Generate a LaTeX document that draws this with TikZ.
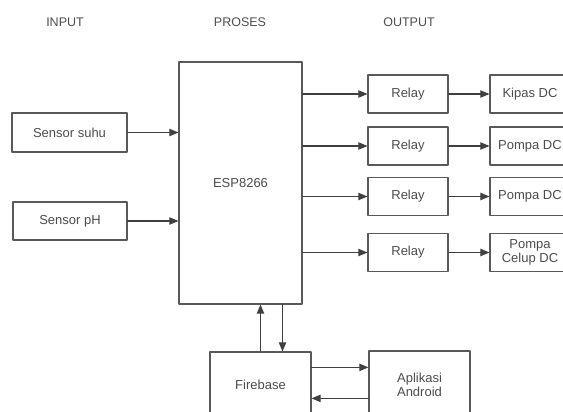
\documentclass[tikz,border=0pt]{standalone}
\usepackage{fontspec}
\setmainfont{Liberation Sans}
\usetikzlibrary{arrows}

\begin{document}
\begin{tikzpicture}[line cap=round,line join=round,>=triangle 45,x=1pt,y=-1pt,
	blok/.style={draw=black!65,line width=1.2pt,fill=white,text=black!70,font=\fontsize{13}{14}\selectfont,align=center,inner sep=0pt},
	judul/.style={text=black!70,font=\fontsize{12.5}{13}\selectfont},
	panah/.style={->,draw=black!75,line width=1.1pt}]
			\useasboundingbox (0,0) rectangle (563,412);
			\clip (0,0) rectangle (563,412);
			\node[judul] (hin) at (65,22) {INPUT};
			\node[judul] (hpr) at (240,22) {PROSES};
			\node[judul] (hout) at (409,22) {OUTPUT};
			\node[blok,minimum width=115,minimum height=39] (suhu) at (69.5,132.5) {Sensor suhu};
			\node[blok,minimum width=114,minimum height=38] (ph) at (70,221) {Sensor pH};
			\node[blok,minimum width=123,minimum height=242] (esp) at (240.5,183) {ESP8266};
			\node[blok,minimum width=80,minimum height=38] (r1) at (408,94) {Relay};
			\node[blok,minimum width=80,minimum height=38] (r2) at (408,146) {Relay};
			\node[blok,minimum width=80,minimum height=38] (r3) at (408,196.5) {Relay};
			\node[blok,minimum width=80,minimum height=38] (r4) at (408,252.5) {Relay};
			\node[blok,minimum width=80,minimum height=38] (kipas) at (530,94) {Kipas DC};
			\node[blok,minimum width=80,minimum height=38] (pompa1) at (530,146) {Pompa DC};
			\node[blok,minimum width=80,minimum height=38] (pompa2) at (530,196.5) {Pompa DC};
			\node[blok,minimum width=80,minimum height=38] (celup) at (530,252.5) {Pompa\\Celup DC};
			\node[blok,minimum width=101,minimum height=66] (fb) at (260.5,385) {Firebase};
			\node[blok,minimum width=101,minimum height=68] (app) at (419.5,385) {Aplikasi\\Android};
			\draw[panah] (suhu) -- (suhu -| esp.west);
			\draw[panah] (ph) -- (ph -| esp.west);
			\draw[panah] (r1 -| esp.east) -- (r1);
			\draw[panah] (r2 -| esp.east) -- (r2);
			\draw[panah] (r3 -| esp.east) -- (r3);
			\draw[panah] (r4 -| esp.east) -- (r4);
			\draw[panah] (r1) -- (kipas);
			\draw[panah] (r2) -- (pompa1);
			\draw[panah] (r3) -- (pompa2);
			\draw[panah] (r4) -- (celup);
			\draw[panah] (fb.north) -- (fb.north |- esp.south);
			\draw[panah] ([xshift=22pt]fb.north |- esp.south) -- ([xshift=22pt]fb.north);
			\draw[panah] ([yshift=-16pt]fb.north east) -- ([yshift=-16pt]fb.north east -| app.west);
			\draw[panah] ([yshift=-48pt]app.north west) -- ([yshift=-48pt]app.north west -| fb.east);
\end{tikzpicture}
\end{document}
